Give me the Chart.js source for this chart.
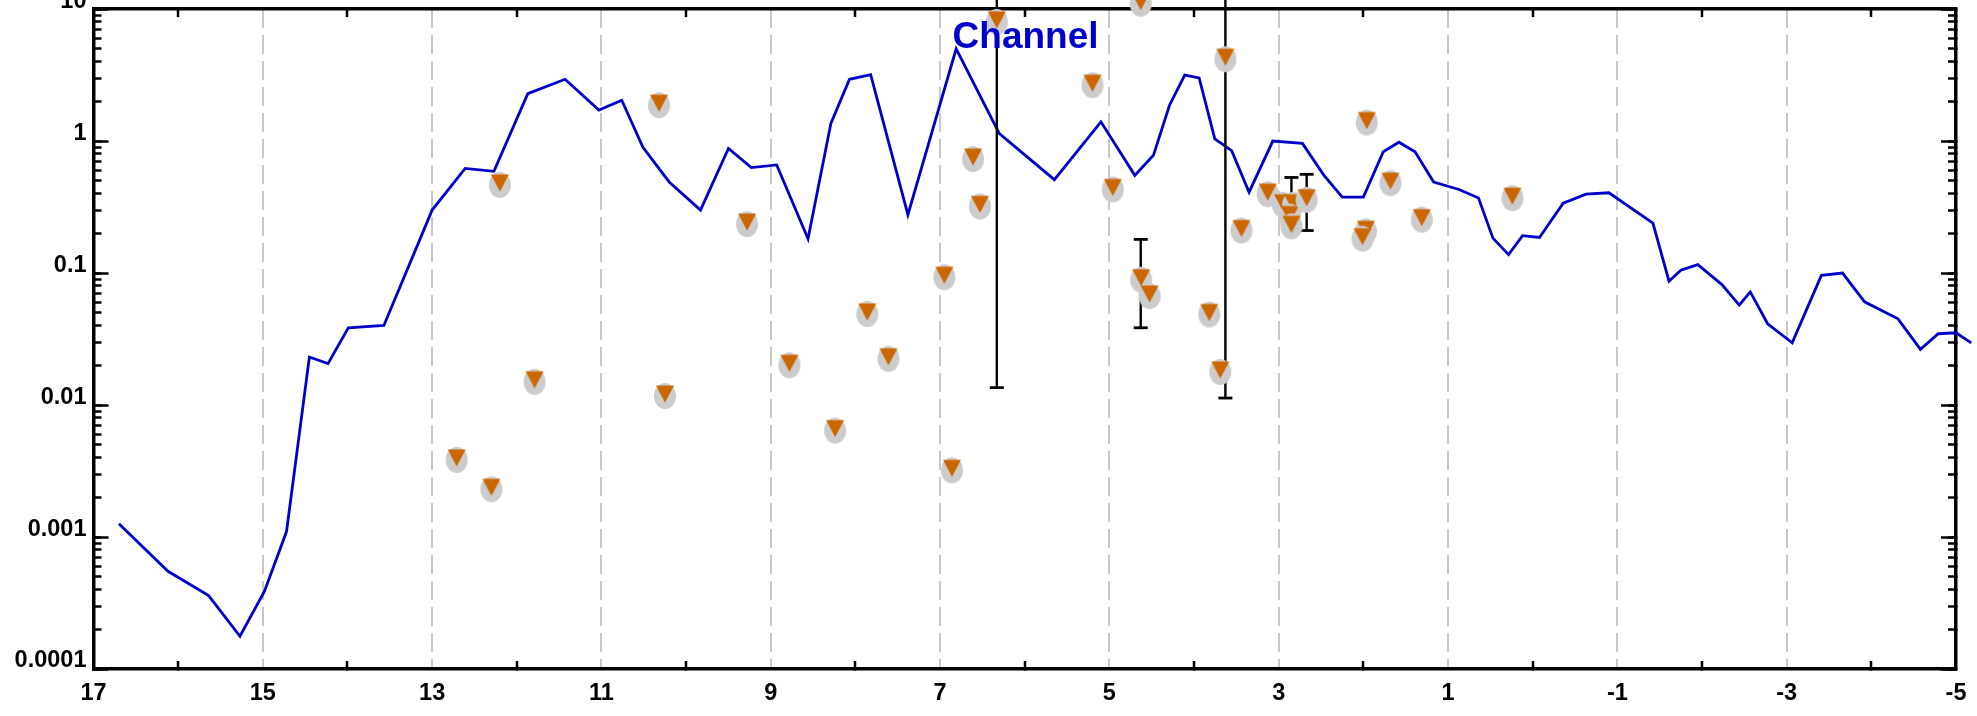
<!DOCTYPE html>
<html>
<head>
<meta charset="utf-8">
<script src="https://cdn.jsdelivr.net/npm/chart.js@4.4.1/dist/chart.umd.min.js"></script>
<style>
  html, body { margin: 0; padding: 0; background: #fff; overflow: hidden; }
  /* canvas is shifted up so the top "10" label gets cut like in the original */
  #wrap { position: absolute; left: 0; top: -20px; width: 1977px; height: 736px; }
</style>
</head>
<body>
<div id="wrap"><canvas id="chart"></canvas></div>
<script>
// blue curve
const lineX = [16.70, 16.12, 15.64, 15.27, 14.98, 14.72, 14.45, 14.23, 13.99, 13.57,
  13.00, 12.61, 12.27, 11.87, 11.43, 11.03, 10.76, 10.51, 10.20, 9.83,
  9.50, 9.23, 8.93, 8.56, 8.29, 8.07, 7.82, 7.38, 6.81, 6.30,
  5.65, 5.10, 4.70, 4.48, 4.29, 4.11, 3.94, 3.755, 3.556, 3.35,
  3.07, 2.72, 2.47, 2.25, 2.00, 1.765, 1.58, 1.39, 1.17, 0.87,
  0.64, 0.47, 0.285, 0.12, -0.08, -0.36, -0.63, -0.90, -1.42, -1.61,
  -1.75, -1.95, -2.235, -2.44, -2.57, -2.775, -3.065, -3.41, -3.66, -3.92,
  -4.315, -4.58, -4.79, -5.00, -5.18];
const lineY = [0.00126, 0.00055, 0.00036, 0.000177, 0.000388, 0.0011, 0.0231, 0.0206, 0.0385, 0.0401,
  0.30, 0.62, 0.59, 2.29, 2.94, 1.72, 2.04, 0.896, 0.49, 0.30,
  0.88, 0.63, 0.66, 0.182, 1.36, 2.94, 3.19, 0.277, 5.0, 1.14,
  0.51, 1.40, 0.55, 0.78, 1.87, 3.16, 3.01, 1.04, 0.846, 0.41,
  1.0, 0.96, 0.555, 0.376, 0.376, 0.83, 0.98, 0.83, 0.49, 0.43,
  0.37, 0.184, 0.138, 0.192, 0.186, 0.339, 0.396, 0.406, 0.239, 0.0867,
  0.105, 0.116, 0.0818, 0.0571, 0.072, 0.0413, 0.0296, 0.096, 0.10, 0.0605,
  0.045, 0.0264, 0.0347, 0.0353, 0.0296];

// markers (grey disc + orange down triangle)
const markX = [12.20, 10.32, 12.71, 12.30, 11.79, 10.25, 9.28, 8.78, 8.24, 7.86,
  7.61, 6.95, 6.86, 6.61, 6.53, 6.33, 5.20, 4.96, 4.63, 4.625,
  4.525, 3.82, 3.69, 3.63, 3.44, 3.13, 2.95, 2.83, 2.87, 2.85,
  2.67, 1.96, 1.68, 1.97, 2.01, 1.31, 0.24];
const markY = [0.465, 1.87, 0.00384, 0.0023, 0.0150, 0.0117, 0.235, 0.020, 0.0064, 0.049,
  0.0224, 0.093, 0.0032, 0.73, 0.32, 8.0, 2.65, 0.43, 11, 0.089,
  0.067, 0.0485, 0.0178, 4.17, 0.21, 0.396, 0.329, 0.329, 0.268, 0.226,
  0.359, 1.38, 0.48, 0.207, 0.182, 0.254, 0.369];

// error bars
const errX = [6.33, 3.63, 4.63, 2.85, 2.67];
const errLo = [0.01355, 0.0113, 0.0385, 0.25, 0.21];
const errHi = [100, 100, 0.18, 0.53, 0.56];

// axes
const xLabels = [17, 15, 13, 11, 9, 7, 5, 3, 1, -1, -3, -5];
const yLabels = ['0.0001', '0.001', '0.01', '0.1', '1', '10'];
const channelLabel = { text: 'Channel', x: 5.99, y: 6.06 };

const xTicks = [];
for (let v = -5; v <= 17; v++) xTicks.push(v);
const yMajor = yLabels.map(Number);
const yAll = [];
yMajor.forEach((d, i) => {
  if (i === yMajor.length - 1) { yAll.push(d); return; }
  for (let m = 1; m < 10; m++) yAll.push(+(m * d).toPrecision(6));
});

Chart.defaults.font.family = '"Liberation Sans", Arial, sans-serif';

const clear = 'rgba(0,0,0,0)';
const isGridX = v => Math.abs(v % 2) === 1 && v !== 17 && v !== -5;

// marker sprite: grey ellipse with the orange triangle sitting high in it
function makeMarker() {
  const c = document.createElement('canvas');
  c.width = 26; c.height = 30;
  const g = c.getContext('2d');
  g.fillStyle = '#CCCCCC';
  g.beginPath();
  g.ellipse(13, 15, 11, 13, 0, 0, Math.PI * 2);
  g.fill();
  g.fillStyle = '#CC6600';
  g.beginPath();
  g.moveTo(4, 4.5);
  g.lineTo(22, 4.5);
  g.lineTo(13, 21.5);
  g.closePath();
  g.fill();
  return c;
}

function xScale(pos, labels) {
  return {
    type: 'linear', position: pos, reverse: true, min: -5, max: 17,
    afterBuildTicks: s => { s.ticks = xTicks.map(v => ({ value: v })); },
    afterFit: s => { s.height = labels ? 47 : 0; },
    ticks: {
      display: labels, autoSkip: false, maxRotation: 0, padding: 18, color: '#000',
      font: { size: 23.5, weight: 'bold' },
      callback: v => xLabels.includes(v) ? String(v) : ''
    },
    grid: {
      drawOnChartArea: labels,
      color: c => (c.tick && isGridX(c.tick.value)) ? '#C8C8C8' : clear,
      lineWidth: 2,
      tickLength: -8, tickWidth: 2.5,
      tickColor: c => (c.tick && Math.abs(c.tick.value % 2) === 0) ? '#000' : clear
    },
    border: { color: '#000', width: 3.5, dash: [19, 7] }
  };
}

function yScale(pos, values, len, labels, weight, border) {
  return {
    type: 'logarithmic', position: pos, min: 1e-4, max: 10, weight: weight,
    afterBuildTicks: s => { s.ticks = values.map(v => ({ value: v })); },
    afterFit: s => { s.width = labels ? 93.5 : 0; },
    ticks: {
      display: labels, autoSkip: false, padding: 15, labelOffset: -8, color: '#000',
      font: { size: 23.5, weight: 'bold' },
      callback: v => {
        const i = yMajor.findIndex(d => Math.abs(v - d) < d * 1e-6);
        return i >= 0 ? yLabels[i] : '';
      }
    },
    grid: { drawOnChartArea: false, tickLength: len, tickWidth: 2.5, tickColor: '#000' },
    border: { display: border, color: '#000', width: 3.5 }
  };
}

const marks = markX.map((x, i) => ({ x: x, y: markY[i] }));
const datasets = [{
  label: 'Channel',
  data: lineX.map((x, i) => ({ x: x, y: lineY[i] })),
  showLine: true, borderColor: '#0000CC', borderWidth: 2.8,
  pointRadius: 0, clip: false, order: 3
}];
errX.forEach((x, i) => datasets.push({
  data: [{ x: x, y: errLo[i] }, { x: x, y: errHi[i] }],
  showLine: true, borderColor: '#000', borderWidth: 2.4,
  pointStyle: 'line', pointRadius: 7, pointBorderColor: '#000', pointBorderWidth: 2.8,
  clip: false, order: 2
}));
datasets.push({
  data: marks, pointStyle: makeMarker(), pointRadius: 12,
  pointBorderWidth: 0, clip: false, order: 0
});
datasets.forEach(d => { d.xAxisID = 'x'; d.yAxisID = 'y'; });

// text label next to the curve
const channelText = {
  id: 'channelText',
  afterDatasetsDraw(chart) {
    const { ctx, scales } = chart;
    ctx.save();
    ctx.font = 'bold 37px "Liberation Sans", Arial, sans-serif';
    ctx.fillStyle = '#0000CC';
    ctx.textAlign = 'center';
    ctx.textBaseline = 'middle';
    ctx.fillText(channelLabel.text, scales.x.getPixelForValue(channelLabel.x), scales.y.getPixelForValue(channelLabel.y));
    ctx.restore();
  }
};

new Chart(document.getElementById('chart'), {
  type: 'scatter',
  data: { datasets: datasets },
  options: {
    responsive: true,
    maintainAspectRatio: false,
    animation: false,
    events: [],
    layout: { padding: { top: 27, right: 21, bottom: 0, left: 0 } },
    plugins: { legend: { display: false }, tooltip: { enabled: false } },
    scales: {
      x: xScale('bottom', true),
      x2: xScale('top', false),
      y: yScale('left', yAll, -8, true, 1, true),
      yMaj: yScale('left', yMajor, -15, false, 0, false),
      y2: yScale('right', yAll, -8, false, 0, true),
      y2Maj: yScale('right', yMajor, -15, false, 1, false)
    }
  },
  plugins: [channelText]
});
</script>
</body>
</html>
